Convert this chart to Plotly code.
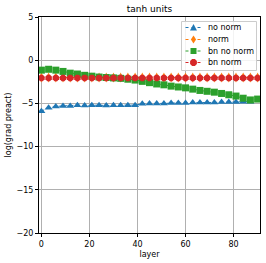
import plotly.graph_objects as go

layers_no_norm = list(range(0, 88, 3))
layers = list(range(0, 91, 3))

no_norm = [-5.9, -5.5, -5.35, -5.3, -5.3, -5.2, -5.25, -5.2, -5.2, -5.25, -5.2, -5.2, -5.2, -5.2,
           -5.05, -5.0, -5.0, -5.0, -4.95, -4.95, -4.95, -4.9, -4.9, -4.9, -4.9, -4.85, -4.85,
           -4.85, -4.8, -4.8]
norm = [-2.0] * 31
bn_no_norm = [-1.15, -1.05, -1.15, -1.3, -1.5, -1.6, -1.75, -1.85, -1.95, -2.0, -2.05, -2.1,
              -2.2, -2.3, -2.45, -2.6, -2.75, -2.85, -3.0, -3.1, -3.2, -3.35, -3.5, -3.6, -3.7,
              -3.85, -4.0, -4.15, -4.4, -4.6, -4.5]
bn_norm = [-2.05] * 31

x_ticks = [0, 20, 40, 60, 80]
y_ticks = [5, 0, -5, -10, -15, -20]

W, H = 266, 263
ML, MR, MT, MB = 39, 6, 17, 30
PW, PH = W - ML - MR, H - MT - MB

series = [
    ("no norm", layers_no_norm, no_norm, "#1f77b4", "triangle-up"),
    ("norm", layers, norm, "#ff7f0e", "diamond-tall"),
    ("bn no norm", layers, bn_no_norm, "#2ca02c", "square"),
    ("bn norm", layers, bn_norm, "#d62728", "octagon"),
]

fig = go.Figure()
for name, xs, ys, c, sym in series:
    fig.add_trace(go.Scatter(
        x=xs, y=ys, name=name, mode="lines+markers",
        line=dict(color=c, width=1, dash="dot"),
        marker=dict(color=c, symbol=sym, size=7, line=dict(width=0)),
        showlegend=False,
    ))


def px(x):
    return (x - ML) / PW


def py(y):
    return (H - MB - y) / PH


def path(points):
    return "M " + " L ".join(f"{px(a):.5f},{py(b):.5f}" for a, b in points) + " Z"


shapes = []
annotations = []
# legend box
shapes.append(dict(type="rect", xref="paper", yref="paper",
                   x0=px(181.5), x1=px(256.5), y0=py(70.5), y1=py(21.5),
                   fillcolor="rgba(255,255,255,0.85)", line=dict(color="#cccccc", width=1),
                   layer="above"))
entry_y = [27.5, 39.5, 51, 62.5]
mx = 193.5
for (name, _, _, c, sym), ey in zip(series, entry_y):
    shapes.append(dict(type="line", xref="paper", yref="paper",
                       x0=px(185.5), x1=px(201.5), y0=py(ey), y1=py(ey),
                       line=dict(color=c, width=1, dash="dot"), layer="above"))
    if sym == "triangle-up":
        pts = [(mx - 3.5, ey + 3), (mx + 3.5, ey + 3), (mx, ey - 3.5)]
    elif sym == "diamond-tall":
        pts = [(mx, ey - 4), (mx + 2.6, ey), (mx, ey + 4), (mx - 2.6, ey)]
    elif sym == "square":
        pts = [(mx - 3, ey - 3), (mx + 3, ey - 3), (mx + 3, ey + 3), (mx - 3, ey + 3)]
    else:
        r, s = 3.4, 1.4
        pts = [(mx - s, ey - r), (mx + s, ey - r), (mx + r, ey - s), (mx + r, ey + s),
               (mx + s, ey + r), (mx - s, ey + r), (mx - r, ey + s), (mx - r, ey - s)]
    shapes.append(dict(type="path", xref="paper", yref="paper", path=path(pts),
                       fillcolor=c, line=dict(width=0), layer="above"))
    annotations.append(dict(xref="paper", yref="paper", x=px(206), y=py(ey),
                            xanchor="left", yanchor="middle", text=name, showarrow=False,
                            font=dict(size=8, color="black", family="DejaVu Sans")))

fig.update_layout(
    width=W, height=H,
    margin=dict(l=ML, r=MR, t=MT, b=MB, autoexpand=False),
    paper_bgcolor="white", plot_bgcolor="white",
    font=dict(family="DejaVu Sans", size=8, color="black"),
    title=dict(text="tanh units", x=(ML + PW / 2) / W, xanchor="center",
               y=1 - 9 / H, yanchor="middle", font=dict(size=9)),
    showlegend=False,
    shapes=shapes,
    annotations=annotations,
)
fig.update_xaxes(
    range=[-1, 91], tickvals=x_ticks, ticktext=[str(v) for v in x_ticks],
    showgrid=True, gridcolor="#b0b0b0", gridwidth=0.8,
    showline=True, linecolor="black", linewidth=1, mirror=True,
    ticks="outside", ticklen=3, tickcolor="black", zeroline=False, automargin=False,
    title=dict(text="layer", font=dict(size=8), standoff=3),
)
fig.update_yaxes(
    range=[-20, 5], tickvals=y_ticks,
    ticktext=[("\u2212" + str(-v)) if v < 0 else str(v) for v in y_ticks],
    showgrid=True, gridcolor="#b0b0b0", gridwidth=0.8,
    showline=True, linecolor="black", linewidth=1, mirror=True,
    ticks="outside", ticklen=3, tickcolor="black", zeroline=False, automargin=False,
    title=dict(text="log(grad preact)", font=dict(size=8), standoff=3),
)

fig.write_html("out.html", config={"displayModeBar": False},
               post_script="document.body.style.margin='0';document.body.style.overflow='hidden';")
